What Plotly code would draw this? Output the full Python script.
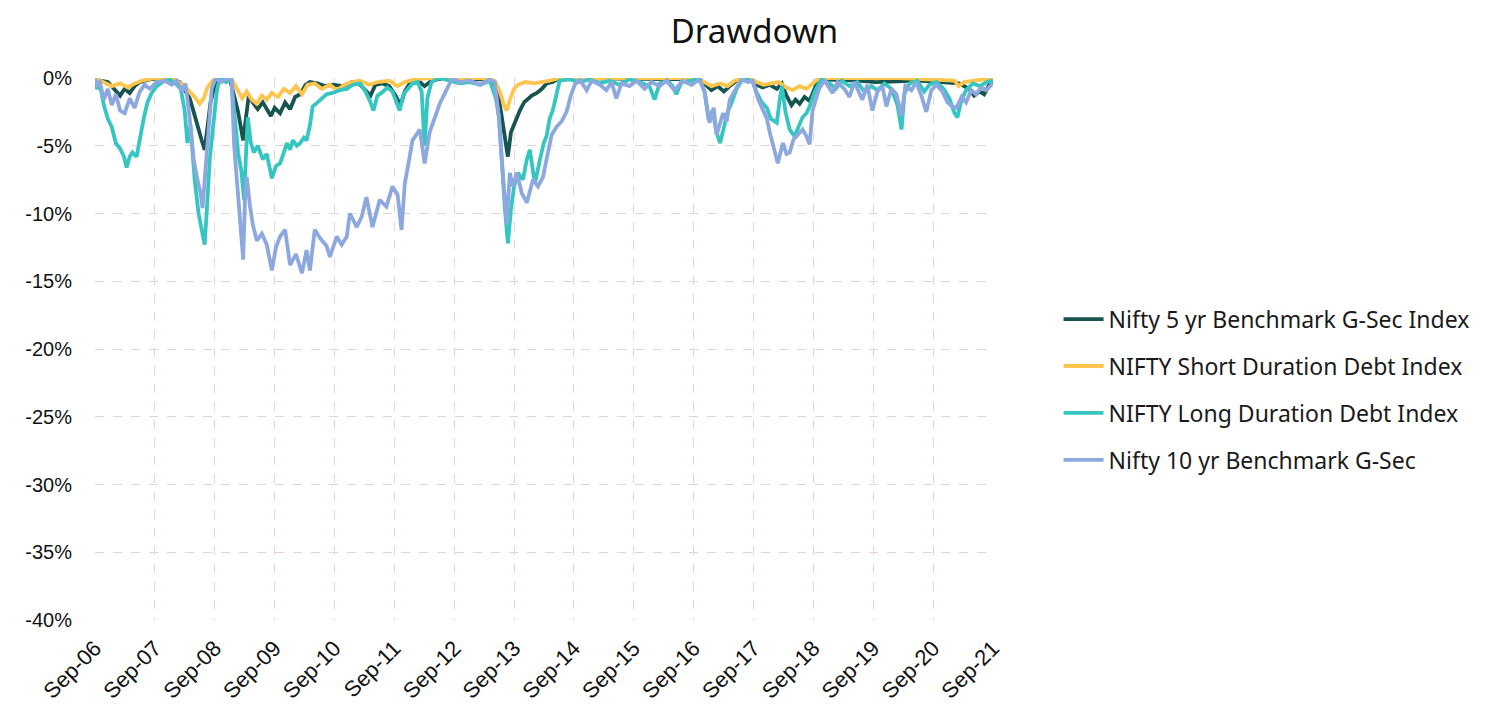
import plotly.graph_objects as go

# ---------------- data (drawdown, %) ----------------
g10_dates = ["2006-09-01","2006-09-13","2006-10-01","2006-10-25","2006-11-18","2006-12-12","2007-01-06","2007-02-01","2007-03-01","2007-04-01",
 "2007-05-01","2007-06-01","2007-07-01","2007-08-01","2007-09-13","2007-11-01","2007-12-13","2008-01-13","2008-02-13","2008-03-06",
 "2008-04-01","2008-04-25","2008-05-18","2008-06-06","2008-06-18","2008-07-06","2008-07-25","2008-08-13","2008-09-06","2008-10-13",
 "2008-11-18","2008-12-13","2008-12-28","2009-01-15","2009-02-01","2009-02-21","2009-03-04","2009-03-15","2009-04-04","2009-04-21",
 "2009-05-15","2009-06-15","2009-07-15","2009-08-15","2009-09-09","2009-10-04","2009-11-04","2009-12-04","2010-01-09","2010-02-15",
 "2010-03-15","2010-04-04","2010-05-04","2010-06-04","2010-07-15","2010-08-04","2010-09-15","2010-10-15","2010-11-15","2010-12-04",
 "2011-01-15","2011-02-15","2011-03-15","2011-04-21","2011-06-04","2011-07-15","2011-08-21","2011-09-21","2011-10-15","2011-11-04",
 "2011-12-04","2011-12-21","2012-02-04","2012-03-04","2012-04-04","2012-05-04","2012-06-04","2012-07-15","2012-08-21","2012-10-04",
 "2012-12-06","2013-02-06","2013-04-06","2013-05-06","2013-06-01","2013-06-18","2013-07-06","2013-07-18","2013-08-06","2013-08-25",
 "2013-09-18","2013-10-18","2013-11-18","2013-12-25","2014-01-25","2014-02-25","2014-03-18","2014-04-18","2014-05-18","2014-06-18",
 "2014-07-18","2014-08-13","2014-09-06","2014-10-06","2014-11-18","2014-12-18","2015-02-06","2015-03-18","2015-04-18","2015-05-18",
 "2015-06-18","2015-08-06","2015-09-18","2015-11-06","2015-12-18","2016-02-06","2016-03-18","2016-05-06","2016-06-25","2016-08-18",
 "2016-10-06","2016-11-06","2016-12-06","2017-01-01","2017-01-18","2017-02-27","2017-03-21","2017-04-09","2017-05-21","2017-06-21",
 "2017-07-27","2017-08-27","2017-09-27","2017-10-27","2017-11-21","2017-12-09","2018-01-04","2018-01-27","2018-02-27","2018-03-21",
 "2018-04-09","2018-05-04","2018-05-21","2018-06-27","2018-07-21","2018-08-09","2018-08-27","2018-09-21","2018-10-09","2018-11-09",
 "2018-12-27","2019-01-27","2019-03-09","2019-04-09","2019-05-09","2019-06-27","2019-07-27","2019-08-27","2019-09-27","2019-10-27",
 "2019-11-21","2019-12-21","2020-01-21","2020-02-21","2020-03-15","2020-04-21","2020-05-21","2020-06-21","2020-07-21","2020-08-21",
 "2020-09-21","2020-10-27","2020-11-27","2020-12-27","2021-01-21","2021-02-21","2021-03-21","2021-04-21","2021-05-21","2021-06-21",
 "2021-07-21","2021-09-01"]
g10_values = [0,-0.5,-0.3,-1.6,-0.8,-2.0,-1.2,-2.4,-2.6,-1.5,
 -2.2,-1.0,-0.5,-0.8,-0.3,-0.2,-0.5,-0.2,-1.0,-0.4,
 -3.0,-6.0,-7.5,-8.5,-9.6,-7.0,-3.5,-0.8,0,-0.3,
 0,-0.2,-5.0,-8.0,-10.5,-13.4,-9.0,-7.3,-9.5,-10.8,
 -12.0,-11.5,-12.3,-14.2,-12.5,-11.7,-11.2,-13.8,-13.0,-14.4,
 -12.7,-14.2,-11.2,-11.8,-12.4,-13.2,-11.7,-12.3,-11.7,-10.0,
 -11.0,-10.2,-8.8,-11.0,-9.0,-9.5,-8.0,-8.6,-11.2,-7.8,
 -5.8,-4.6,-3.8,-6.3,-4.0,-3.0,-1.9,-0.9,0,-0.3,
 -0.2,-0.5,-0.1,-0.3,-3.0,-6.0,-8.5,-10.8,-7.0,-8.0,
 -7.0,-8.5,-9.2,-7.5,-8.0,-7.3,-6.0,-4.2,-3.6,-3.2,
 -2.5,-1.3,-0.5,-0.1,-0.9,-0.2,-0.5,-0.9,-0.3,-1.5,
 -0.4,-0.6,-0.2,-0.8,-0.3,-0.6,-0.2,-0.9,-0.2,-0.5,
 -0.1,-1.0,-3.3,-2.2,-4.2,-2.6,-3.2,-1.6,-0.7,-0.1,
 -0.3,-0.2,-1.5,-2.4,-3.0,-4.0,-5.2,-6.3,-4.8,-5.6,
 -5.5,-4.5,-4.3,-3.8,-4.3,-4.9,-2.4,-1.3,-0.7,-0.2,
 -1.1,-0.3,-0.8,-1.4,-0.3,-1.6,-0.5,-2.4,-1.0,-0.6,
 -2.1,-0.8,-1.2,-2.8,-0.6,-0.9,-0.3,-1.3,-2.5,-0.9,
 -0.5,-1.0,-1.8,-2.1,-2.2,-1.4,-1.8,-0.9,-1.2,-0.7,
 -0.9,-0.4]

long_dates = ["2006-09-01","2006-09-13","2006-10-01","2006-10-25","2006-11-18","2006-12-12","2007-01-06","2007-02-01","2007-02-25","2007-03-13",
 "2007-04-01","2007-04-18","2007-05-13","2007-06-01","2007-06-25","2007-07-18","2007-08-13","2007-09-13","2007-10-18","2007-12-01",
 "2008-01-06","2008-02-06","2008-03-01","2008-03-18","2008-04-06","2008-05-01","2008-05-25","2008-06-18","2008-07-01","2008-07-18",
 "2008-08-01","2008-08-18","2008-09-13","2008-10-01","2008-11-09","2008-12-09","2009-01-04","2009-01-21","2009-02-09","2009-02-27",
 "2009-03-09","2009-03-21","2009-04-09","2009-04-27","2009-05-21","2009-06-21","2009-07-15","2009-08-15","2009-09-09","2009-10-04",
 "2009-10-27","2009-11-15","2009-12-04","2009-12-21","2010-01-15","2010-02-04","2010-02-27","2010-03-15","2010-04-04","2010-04-21",
 "2010-05-21","2010-06-15","2010-07-15","2010-08-21","2010-10-04","2010-11-15","2010-12-21","2011-02-04","2011-03-09","2011-04-09",
 "2011-04-27","2011-05-21","2011-06-15","2011-07-21","2011-08-21","2011-09-15","2011-10-04","2011-10-27","2011-11-21","2011-12-21",
 "2012-01-21","2012-02-15","2012-03-04","2012-03-21","2012-04-15","2012-06-04","2012-08-04","2012-10-04","2012-12-06","2013-02-06",
 "2013-04-06","2013-05-13","2013-06-01","2013-06-18","2013-07-06","2013-07-25","2013-08-13","2013-09-01","2013-09-25","2013-10-25",
 "2013-11-18","2013-12-06","2014-01-06","2014-02-06","2014-03-01","2014-03-18","2014-04-06","2014-04-25","2014-05-18","2014-06-06",
 "2014-08-06","2014-10-06","2014-12-06","2015-02-06","2015-04-06","2015-06-06","2015-08-06","2015-10-06","2015-12-06","2016-01-06",
 "2016-02-06","2016-03-25","2016-04-25","2016-05-18","2016-06-18","2016-08-18","2016-10-06","2016-11-06","2016-12-01","2016-12-25",
 "2017-01-18","2017-02-09","2017-03-04","2017-03-27","2017-04-21","2017-05-21","2017-06-21","2017-07-27","2017-08-27","2017-09-21",
 "2017-10-21","2017-11-21","2017-12-15","2018-01-21","2018-02-09","2018-02-21","2018-03-15","2018-04-09","2018-05-09","2018-06-04",
 "2018-06-27","2018-07-21","2018-08-09","2018-09-04","2018-09-21","2018-10-21","2018-12-09","2019-01-15","2019-02-21","2019-04-09",
 "2019-05-27","2019-07-09","2019-08-21","2019-09-27","2019-11-09","2019-12-21","2020-01-27","2020-02-21","2020-03-09","2020-04-09",
 "2020-05-27","2020-07-09","2020-08-09","2020-09-21","2020-11-04","2020-12-09","2021-01-09","2021-01-27","2021-02-21","2021-03-21",
 "2021-05-01","2021-06-13","2021-07-25","2021-09-01"]
long_values = [0,-0.8,-0.5,-2.0,-3.0,-3.6,-4.8,-5.2,-5.8,-6.6,
 -5.8,-5.5,-5.8,-4.5,-3.0,-1.8,-1.1,-0.6,-0.3,-0.1,
 -0.4,-0.8,-2.4,-4.8,-3.5,-7.5,-10.0,-11.5,-12.3,-9.0,
 -6.0,-4.0,-1.0,0,-0.3,0,-3.0,-5.5,-6.8,-9.0,
 -6.0,-2.9,-4.8,-5.5,-5.0,-6.0,-5.6,-7.4,-6.5,-6.3,
 -5.5,-4.8,-5.3,-4.6,-5.0,-4.8,-4.4,-4.6,-3.5,-2.1,
 -1.8,-1.5,-1.2,-1.1,-0.9,-0.8,-0.5,-0.4,-1.0,-1.8,
 -2.4,-1.3,-1.1,-0.7,-1.0,-1.8,-2.4,-1.2,-0.8,-0.4,
 -0.3,-1.0,-5.0,-1.5,-0.3,0,-0.2,-0.4,-0.3,-0.5,
 -0.2,-1.5,-2.9,-6.5,-9.5,-12.2,-9.7,-8.0,-7.0,-7.5,
 -6.0,-5.3,-7.8,-6.0,-4.8,-4.3,-3.0,-2.4,-1.0,-0.2,
 -0.1,-0.3,-0.1,-0.4,-0.2,-0.5,-0.1,-0.3,-0.6,-1.6,
 -0.4,-0.2,-0.6,-1.2,-0.3,-0.2,-0.1,-1.0,-3.1,-2.4,
 -4.0,-4.8,-3.5,-2.5,-1.8,-0.8,-0.2,-0.1,-0.3,-1.1,
 -1.8,-2.2,-3.0,-3.3,-1.5,-0.6,-2.5,-3.8,-4.3,-3.6,
 -2.9,-2.6,-2.1,-1.2,-0.7,-0.1,-0.4,-0.8,-0.2,-0.6,
 -0.3,-1.0,-0.6,-0.9,-0.4,-0.8,-2.0,-3.8,-1.2,-0.4,
 -0.2,-1.0,-0.5,-0.3,-0.8,-1.5,-2.6,-2.9,-1.6,-0.9,
 -0.4,-0.6,-0.3,-0.2]

g5_dates = ["2006-09-01","2006-10-01","2006-11-18","2007-01-01","2007-02-01","2007-03-01","2007-04-01","2007-05-01","2007-06-01","2007-08-01",
 "2007-10-01","2007-12-01","2008-02-01","2008-03-06","2008-04-01","2008-04-25","2008-05-18","2008-06-13","2008-07-01","2008-07-18",
 "2008-08-06","2008-09-01","2008-10-01","2008-12-01","2008-12-28","2009-01-21","2009-02-21","2009-03-09","2009-03-27","2009-04-21",
 "2009-05-21","2009-06-21","2009-07-21","2009-08-09","2009-09-01","2009-10-04","2009-11-04","2009-12-04","2010-01-04","2010-02-04",
 "2010-03-09","2010-04-04","2010-05-21","2010-07-04","2010-08-21","2010-10-21","2010-12-15","2011-02-04","2011-03-09","2011-04-09",
 "2011-05-09","2011-06-21","2011-08-01","2011-09-09","2011-10-09","2011-11-04","2011-12-04","2012-02-04","2012-03-04","2012-04-15",
 "2012-07-04","2012-12-06","2013-04-06","2013-05-21","2013-06-13","2013-07-06","2013-07-25","2013-08-13","2013-08-25","2013-09-18",
 "2013-10-06","2013-11-01","2013-11-18","2013-12-18","2014-01-18","2014-02-18","2014-03-18","2014-04-25","2014-06-06","2016-10-06",
 "2016-11-13","2016-12-18","2017-01-25","2017-03-04","2017-04-09","2017-05-21","2017-08-09","2017-09-21","2017-10-27","2017-12-09",
 "2018-01-21","2018-02-21","2018-03-21","2018-04-21","2018-05-15","2018-06-09","2018-07-09","2018-08-09","2018-09-15","2018-10-09",
 "2019-06-01","2019-09-15","2020-06-01","2020-10-04","2021-02-04","2021-04-09","2021-05-09","2021-06-13","2021-07-09","2021-08-09",
 "2021-09-01"]
g5_values = [0,-0.2,-0.3,-0.9,-1.3,-0.8,-1.1,-0.6,-0.3,-0.1,
 0,-0.1,-0.3,-1.0,-1.5,-2.5,-3.6,-4.6,-5.3,-3.5,
 -1.8,-0.5,0,0,-1.2,-2.5,-4.6,-3.0,-1.3,-1.8,
 -2.3,-1.8,-2.4,-2.8,-2.2,-2.6,-1.8,-2.3,-1.4,-1.2,
 -0.5,-0.3,-0.4,-0.6,-0.5,-0.6,-0.3,-0.5,-0.9,-1.3,
 -0.5,-0.4,-0.6,-1.3,-2.0,-1.0,-0.4,-0.3,-0.6,-0.2,
 0,-0.1,-0.1,-0.8,-2.5,-4.5,-5.8,-4.0,-3.6,-2.9,
 -2.4,-1.8,-1.6,-1.3,-1.1,-0.8,-0.4,-0.3,0,-0.1,
 -0.5,-0.9,-0.6,-1.0,-0.6,-0.2,-0.1,-0.5,-0.7,-0.5,
 -0.8,-0.4,-1.3,-2.0,-1.6,-1.9,-1.4,-1.7,-0.6,-0.1,
 -0.2,-0.3,-0.2,-0.3,-0.4,-0.8,-1.3,-1.0,-1.2,-0.5,
 -0.3]

short_dates = ["2006-09-01","2006-10-25","2006-12-12","2007-02-01","2007-03-21","2007-05-01","2007-06-13","2007-09-01","2008-01-01","2008-03-01",
 "2008-04-01","2008-05-01","2008-06-01","2008-06-25","2008-07-18","2008-08-18","2008-10-01","2008-12-13","2009-01-15","2009-02-15",
 "2009-03-15","2009-04-15","2009-05-15","2009-06-15","2009-07-15","2009-08-15","2009-09-21","2009-10-27","2009-12-04","2010-01-09",
 "2010-02-15","2010-03-21","2010-05-04","2010-06-15","2010-08-04","2010-09-15","2010-11-01","2010-12-15","2011-02-04","2011-04-01",
 "2011-05-21","2011-08-01","2011-09-21","2011-11-04","2012-01-04","2012-04-04","2013-02-06","2013-05-06","2013-06-06","2013-07-01",
 "2013-07-18","2013-08-06","2013-09-01","2013-09-25","2013-11-06","2014-01-06","2014-04-06","2014-06-06","2016-06-06","2016-11-06",
 "2016-12-18","2017-02-09","2017-03-27","2017-05-09","2017-08-09","2017-09-21","2017-11-01","2017-12-21","2018-02-01","2018-03-21",
 "2018-04-27","2018-06-09","2018-07-21","2018-08-27","2018-10-09","2020-02-09","2021-01-09","2021-02-04","2021-03-09","2021-09-01"]
short_values = [0,-0.3,-0.6,-0.4,-0.7,-0.4,-0.2,0,-0.1,-0.6,
 -1.0,-1.4,-1.9,-1.5,-0.7,-0.2,0,-0.1,-0.8,-1.5,
 -1.0,-1.6,-1.9,-1.3,-1.6,-1.1,-1.4,-0.8,-1.1,-0.6,
 -1.2,-0.5,-0.4,-0.8,-0.5,-0.9,-0.5,-0.3,-0.2,-0.5,
 -0.3,-0.2,-0.6,-0.3,-0.1,0,0,-0.2,-1.0,-2.0,
 -2.4,-1.6,-0.8,-0.5,-0.3,-0.4,-0.2,0,0,-0.3,
 -0.6,-0.4,-0.6,-0.2,0,-0.3,-0.5,-0.4,-0.3,-0.7,
 -0.9,-0.6,-0.8,-0.4,0,0,-0.2,-0.6,-0.3,0]

series_names = ["Nifty 5 yr Benchmark G-Sec Index", "NIFTY Short Duration Debt Index",
                "NIFTY Long Duration Debt Index", "Nifty 10 yr Benchmark G-Sec"]
series_colors = ["#17544F", "#FFC54D", "#36C6C1", "#8CA8DE"]

y_tick_vals = [0, -5, -10, -15, -20, -25, -30, -35, -40]
y_tick_text = ["0%", "-5%", "-10%", "-15%", "-20%", "-25%", "-30%", "-35%", "-40%"]
x_tick_vals = ["%d-09-01" % y for y in range(2006, 2022)]
x_tick_text = ["Sep-%02d" % (y % 100) for y in range(2006, 2022)]

# ---------------- figure ----------------
all_x = [g5_dates, short_dates, long_dates, g10_dates]
all_y = [g5_values, short_values, long_values, g10_values]

fig = go.Figure()
for i in range(4):
    fig.add_trace(go.Scatter(
        x=all_x[i], y=all_y[i], mode="lines", name=series_names[i],
        line=dict(color=series_colors[i], width=3.8), legendgroup=str(i)))

grid_col = "#E6D2D6"
fig.update_layout(
    width=1493, height=709,
    paper_bgcolor="white", plot_bgcolor="white",
    margin=dict(l=87, r=508, t=70, b=97),
    title=dict(text="Drawdown", x=0.5, xanchor="center", y=0.967, yanchor="middle",
               font=dict(family="Noto Sans", size=33, color="#111111")),
    legend=dict(x=1.073, xanchor="left", y=0.425, yanchor="middle",
                font=dict(family="Noto Sans", size=23, color="#1a1a1a"),
                tracegroupgap=14, traceorder="grouped", itemwidth=40),
    showlegend=True,
)
fig.update_xaxes(
    type="date", range=["2006-09-01", "2021-09-01"],
    tickvals=x_tick_vals, ticktext=x_tick_text, tickangle=-45,
    tickfont=dict(family="Liberation Sans", size=22, color="#111111"),
    showgrid=True, gridcolor=grid_col, griddash="dash", gridwidth=1,
    zeroline=False, showline=False, ticks="", ticklabelstandoff=10,
)
fig.update_yaxes(
    range=[-40, 0], tickvals=y_tick_vals, ticktext=y_tick_text,
    tickfont=dict(family="Liberation Sans", size=20, color="#111111"),
    showgrid=True, gridcolor=grid_col, griddash="dash", gridwidth=1,
    zeroline=False, showline=False, ticks="", ticklabelstandoff=22,
)

fig.write_html("out.html")
